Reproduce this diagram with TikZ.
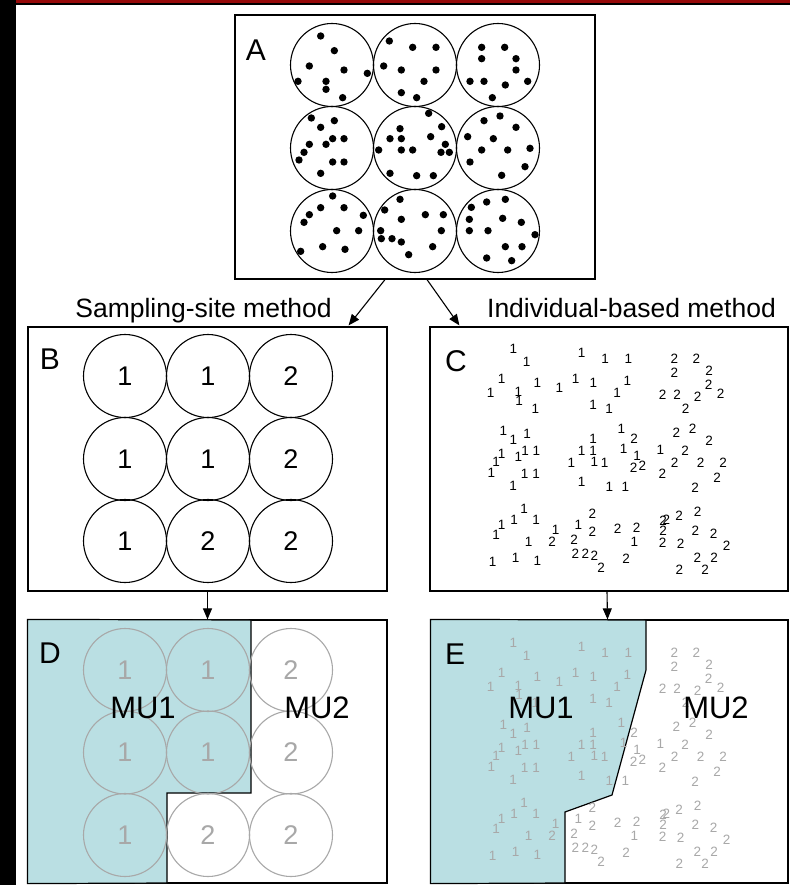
\documentclass[tikz,border=0pt]{standalone}
\usepackage{fontspec}
\setmainfont{Liberation Sans}
\usetikzlibrary{arrows.meta}
\definecolor{framered}{RGB}{150,10,10}
\definecolor{mufill}{RGB}{186,223,227}
\definecolor{faded}{RGB}{168,168,168}
\newcommand{\fs}[1]{\fontsize{#1}{#1}\selectfont}

% dots of the raw plot (A), in a 1/3-pt grid
\def\dotList{272/78, 313/122, 238/168, 342/180, 412/190, 204/214, 288/214, 288/238, 338/263,
478/93, 548/112, 618/112, 461/168, 514/180, 618/180, 582/214, 514/248, 560/263,
755/112, 824/112, 755/146, 858/146, 858/180, 720/214, 762/214, 826/225, 893/214, 787/263,
244/324, 313/332, 272/352, 308/386, 342/386, 288/403, 238/403, 222/427, 207/450, 308/456, 342/456, 272/490,
596/310, 635/350, 510/356, 480/386, 514/386, 602/380, 646/403, 446/420, 514/420, 548/420, 633/427, 658/427, 480/490, 560/497, 610/497,
810/318, 762/332, 858/352, 713/380, 790/386, 755/420, 833/420, 900/415, 720/456, 885/470, 815/496,
308/558, 272/593, 342/593, 238/614, 400/616, 222/637, 320/662, 386/662, 212/724, 278/710, 345/718,
510/568, 464/600, 586/614, 640/614, 514/628, 452/662, 634/662, 454/686, 486/686, 514/696, 608/710, 536/734,
770/576, 826/568, 724/592, 818/625, 874/637, 718/628, 718/662, 774/662, 915/674, 826/710, 876/710, 770/744, 845/752}

% individuals assigned to group 1 and group 2, in a 1/3-pt grid
\def\onesList{250/57, 290/97, 455/70, 525/87, 595/87,
215/147, 322/160, 388/173, 437/147, 490/160, 592/153, 561/190,
182/190, 265/187, 267/213, 316/238, 489/225, 537/237,
220/302, 250/330, 291/311, 489/327, 574/297,
215/373, 198/397, 265/380, 285/364, 319/363,
455/363, 489/363, 493/397, 524/398, 424/398,
581/357, 621/378, 691/360,
184/430, 284/432, 318/432,
455/455, 249/467, 538/471, 586/472,
282/536, 252/570, 318/570, 215/586, 198/614, 377/601, 445/584,
296/636, 613/636, 188/696, 257/683, 322/694}
\def\twosList{733/87, 799/87, 733/127, 837/121, 836/163,
698/193, 741/193, 803/200, 872/190, 767/237,
612/326, 739/308, 788/297, 837/332,
765/361, 734/399, 812/398, 879/398,
611/414, 637/406, 697/432, 861/442, 795/473,
487/550, 487/604, 563/595, 620/592,
699/571, 709/570, 747/557, 803/545,
699/602, 796/602, 851/610,
366/635, 432/630, 698/638, 752/640, 890/648,
436/671, 466/671, 493/676, 513/712, 588/685,
802/684, 852/683, 748/720, 825/720}

\begin{document}
\begin{tikzpicture}[x=1pt,y=-1pt,
  panel/.style={draw, line width=1.2pt, inner sep=0pt},
  site/.style={circle, draw, line width=1.1pt, minimum size=83pt, inner sep=0pt, font=\fs{27}},
  fadedsite/.style={site, draw=faded, text=faded},
  tag/.style={inner sep=0pt, font=\fs{30}},
  tiny/.style={inner sep=0pt, font=\fs{13.5}},
  mu/.style={inner sep=0pt, font=\fs{31}},
  caption/.style={inner sep=0pt, anchor=base, font=\fs{26.5}},
  arr/.style={line width=1.1pt, -{Triangle[length=11pt,width=9pt]}},
  zone/.style={fill=mufill, draw=black, line width=1.2pt},
]
\useasboundingbox (0,0) rectangle (790,885);

% page frame
\fill[white] (0,0) rectangle (790,885);
\fill[black] (0,0) rectangle (790,5.5);
\fill[framered] (0,0) rectangle (790,3.5);
\fill[black] (0,0) rectangle (16,885);

% panels
\node[panel, minimum width=360pt, minimum height=264pt] (boxA) at (415,147) {};
\node[panel, minimum width=359pt, minimum height=264pt] (boxB) at (207.5,459) {};
\node[panel, minimum width=358pt, minimum height=264pt] (boxC) at (609,459) {};
\node[panel, minimum width=359pt, minimum height=263pt] (boxD) at (207.5,751.5) {};
\node[panel, minimum width=357pt, minimum height=263pt] (boxE) at (609.5,751.5) {};

% management-unit zones
\draw[zone] (boxD.north west) -- (251,620) -- (251,793) -- (167,793) -- (167,883) -- (boxD.south west) -- cycle;
\draw[zone] (boxE.north west) -- (646,620) -- (646,670) -- (612,795) -- (565,812) -- (565,883) -- (boxE.south west) -- cycle;

% panel letters
\node[tag] (labA) at (256,50) {A};
\node[tag] (labB) at (50,359) {B};
\node[tag] (labC) at (456,361) {C};
\node[tag] (labD) at (50,653) {D};
\node[tag] (labE) at (455,654) {E};

% A: sampling sites with individuals
\foreach \c/\x in {1/332,2/415,3/498}
  \foreach \r/\y in {1/65,2/148,3/231}
    \node[site] (a\r\c) at (\x,\y) {};
\begin{scope}[x=0.33333pt, y=-0.33333pt, shift={(230pt,-10pt)}]
  \foreach \u/\v in \dotList
    \fill (\u,\v) circle[radius=3.7pt];
\end{scope}

% B: group assignment per site
\foreach \r/\y/\p/\q/\s in {1/376/1/1/2, 2/459/1/1/2, 3/541/1/2/2} {
  \node[site] (b\r1) at (125,\y) {\p};
  \node[site] (b\r2) at (208,\y) {\q};
  \node[site] (b\r3) at (291,\y) {\s};
}

% D: the same sites, faded
\foreach \r/\y/\p/\q/\s in {1/670/1/1/2, 2/752.5/1/1/2, 3/835/1/2/2} {
  \node[fadedsite] (d\r1) at (125,\y) {\p};
  \node[fadedsite] (d\r2) at (208,\y) {\q};
  \node[fadedsite] (d\r3) at (291,\y) {\s};
}

% C: group assignment per individual
\begin{scope}[x=0.33333pt, y=-0.33333pt, shift={(430pt,-330pt)}]
  \foreach \u/\v [count=\i] in \onesList
    \node[tiny] (cone\i) at (\u,\v) {1};
  \foreach \u/\v [count=\i] in \twosList
    \node[tiny] (ctwo\i) at (\u,\v) {2};
\end{scope}

% E: the same individuals, faded
\begin{scope}[x=0.33333pt, y=-0.33333pt, shift={(430pt,-624pt)}]
  \foreach \u/\v [count=\i] in \onesList
    \node[tiny, text=faded] (eone\i) at (\u,\v) {1};
  \foreach \u/\v [count=\i] in \twosList
    \node[tiny, text=faded] (etwo\i) at (\u,\v) {2};
\end{scope}

% management-unit names
\node[mu] (muD1) at (143,708) {MU1};
\node[mu] (muD2) at (317,708) {MU2};
\node[mu] (muE1) at (541,708) {MU1};
\node[mu] (muE2) at (716,708) {MU2};

% method captions
\node[caption] (capB) at (203.5,317) {Sampling-site method};
\node[caption] (capC) at (631.5,317) {Individual-based method};

% connectors
\draw[arr] ([xshift=-30pt]boxA.south) -- ([xshift=-39pt,yshift=1pt]boxB.north east);
\draw[arr] ([xshift=12pt]boxA.south) -- ([xshift=30pt,yshift=1pt]boxC.north west);
\draw[arr] (boxB.south) -- (boxD.north);
\draw[arr] ([xshift=-2pt]boxC.south) -- ([xshift=-2pt]boxE.north);
\end{tikzpicture}
\end{document}
